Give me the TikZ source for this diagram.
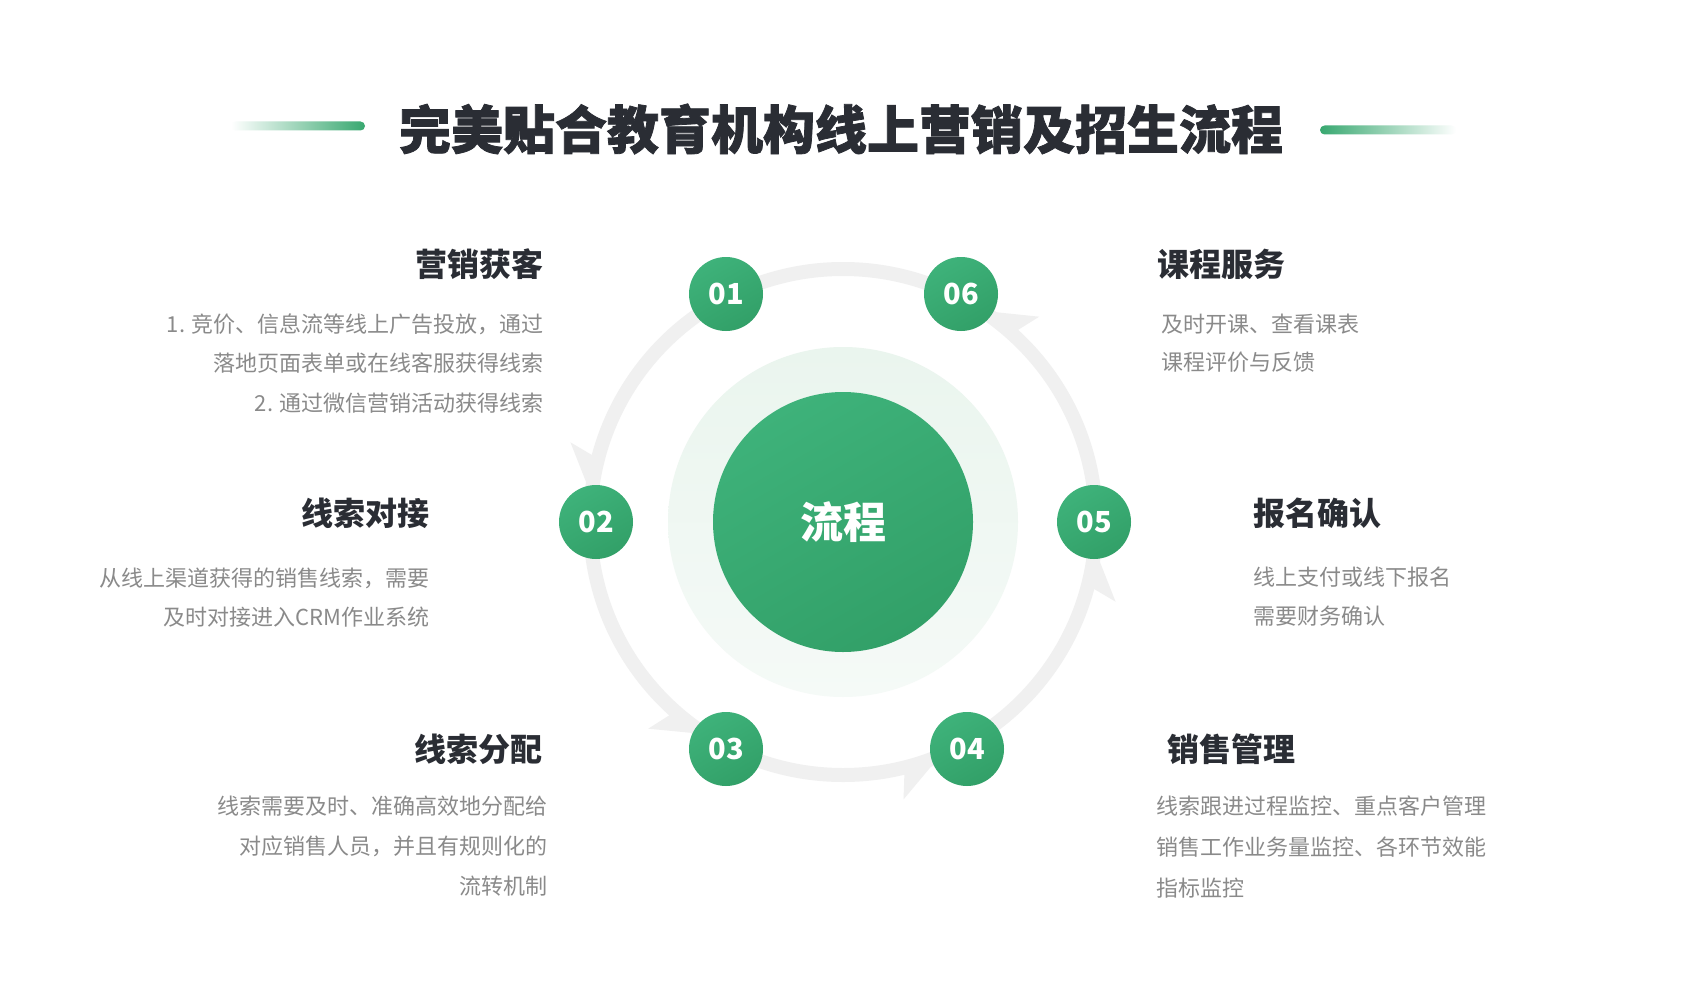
\documentclass[tikz,border=0pt]{standalone}
\usepackage{fontspec}
\setmainfont{Noto Sans CJK SC}
\newfontfamily\heavyfont{Noto Sans CJK SC}[BoldFeatures={FakeBold=1.5}]
\usetikzlibrary{calc}
\definecolor{gA}{HTML}{3EB27A}
\definecolor{gB}{HTML}{32A068}
\definecolor{gmid}{HTML}{38A870}
\definecolor{ringc}{HTML}{F0F0F0}
\definecolor{haloA}{HTML}{EAF5EE}
\definecolor{haloB}{HTML}{F5FAF7}
\definecolor{headc}{HTML}{2A2D34}
\definecolor{descc}{HTML}{8A8A8A}
\begin{document}
\begin{tikzpicture}[x=1pt,y=-1pt,
  num/.style={circle, minimum size=74pt, inner sep=0pt, top color=gA, bottom color=gB, shading angle=30, text=white, font=\bfseries\fontsize{29}{29}\selectfont},
  head/.style={inner sep=0pt, text=headc, font=\bfseries\fontsize{32}{32}\selectfont},
  desc/.style={inner sep=0pt, text=descc, font=\fontsize{22}{22}\selectfont},
]
\fill[white] (0,0) rectangle (1685,1003);
\useasboundingbox (0,0) rectangle (1685,1003);

% title
\shade[left color=white, right color=gmid, rounded corners=4.5pt] (231,121.5) rectangle (365,130.5);
\shade[left color=gmid, right color=white, rounded corners=4.5pt] (1320,125.5) rectangle (1456,134.5);
\node[inner sep=0pt, text=headc, font=\heavyfont\bfseries\fontsize{52}{52}\selectfont] (title) at (841,129) {完美贴合教育机构线上营销及招生流程};

% ring
\coordinate (O) at (843,522);
\shade[top color=haloA, bottom color=haloB] (O) circle (175pt);
\draw[ringc, line width=14pt] (O) circle (253pt);
\foreach \p in {180,243,298.6,360,422.6}{
  \fill[ringc] ($(O)+(\p-6:253pt)$) -- ($(O)+(\p-14.5:253pt)$) -- ($(O)+(\p-16.3:284pt)$) -- cycle;
}
\node[circle, minimum size=260pt, inner sep=0pt, top color=gA, bottom color=gB, shading angle=30, text=white, font=\bfseries\fontsize{43}{43}\selectfont] (C) at (O) {流程};

\node[num] (n1) at (726,294) {01};
\node[num] (n6) at (961,294) {06};
\node[num] (n2) at (596,522) {02};
\node[num] (n5) at (1094,522) {05};
\node[num] (n3) at (726,749) {03};
\node[num] (n4) at (967,749) {04};

% left texts
\node[head, anchor=east] (h1) at (544,264) {营销获客};
\node[desc, anchor=east] (d1a) at (544,324) {1. 竞价、信息流等线上广告投放，通过};
\node[desc, anchor=east] (d1b) at (544,363) {落地页面表单或在线客服获得线索};
\node[desc, anchor=east] (d1c) at (544,403) {2. 通过微信营销活动获得线索};

\node[head, anchor=east] (h2) at (430,513) {线索对接};
\node[desc, anchor=east] (d2a) at (430,578) {从线上渠道获得的销售线索，需要};
\node[desc, anchor=east] (d2b) at (430,617) {及时对接进入CRM作业系统};

\node[head, anchor=east] (h3) at (543,749) {线索分配};
\node[desc, anchor=east] (d3a) at (548,806) {线索需要及时、准确高效地分配给};
\node[desc, anchor=east] (d3b) at (548,846) {对应销售人员，并且有规则化的};
\node[desc, anchor=east] (d3c) at (548,886) {流转机制};

% right texts
\node[head, anchor=west] (h6) at (1157,264) {课程服务};
\node[desc, anchor=west] (d6a) at (1161,324) {及时开课、查看课表};
\node[desc, anchor=west] (d6b) at (1161,362) {课程评价与反馈};

\node[head, anchor=west] (h5) at (1253,513) {报名确认};
\node[desc, anchor=west] (d5a) at (1253,577) {线上支付或线下报名};
\node[desc, anchor=west] (d5b) at (1253,616) {需要财务确认};

\node[head, anchor=west] (h4) at (1167,749) {销售管理};
\node[desc, anchor=west] (d4a) at (1156,806) {线索跟进过程监控、重点客户管理};
\node[desc, anchor=west] (d4b) at (1156,847) {销售工作业务量监控、各环节效能};
\node[desc, anchor=west] (d4c) at (1156,888) {指标监控};
\end{tikzpicture}
\end{document}
